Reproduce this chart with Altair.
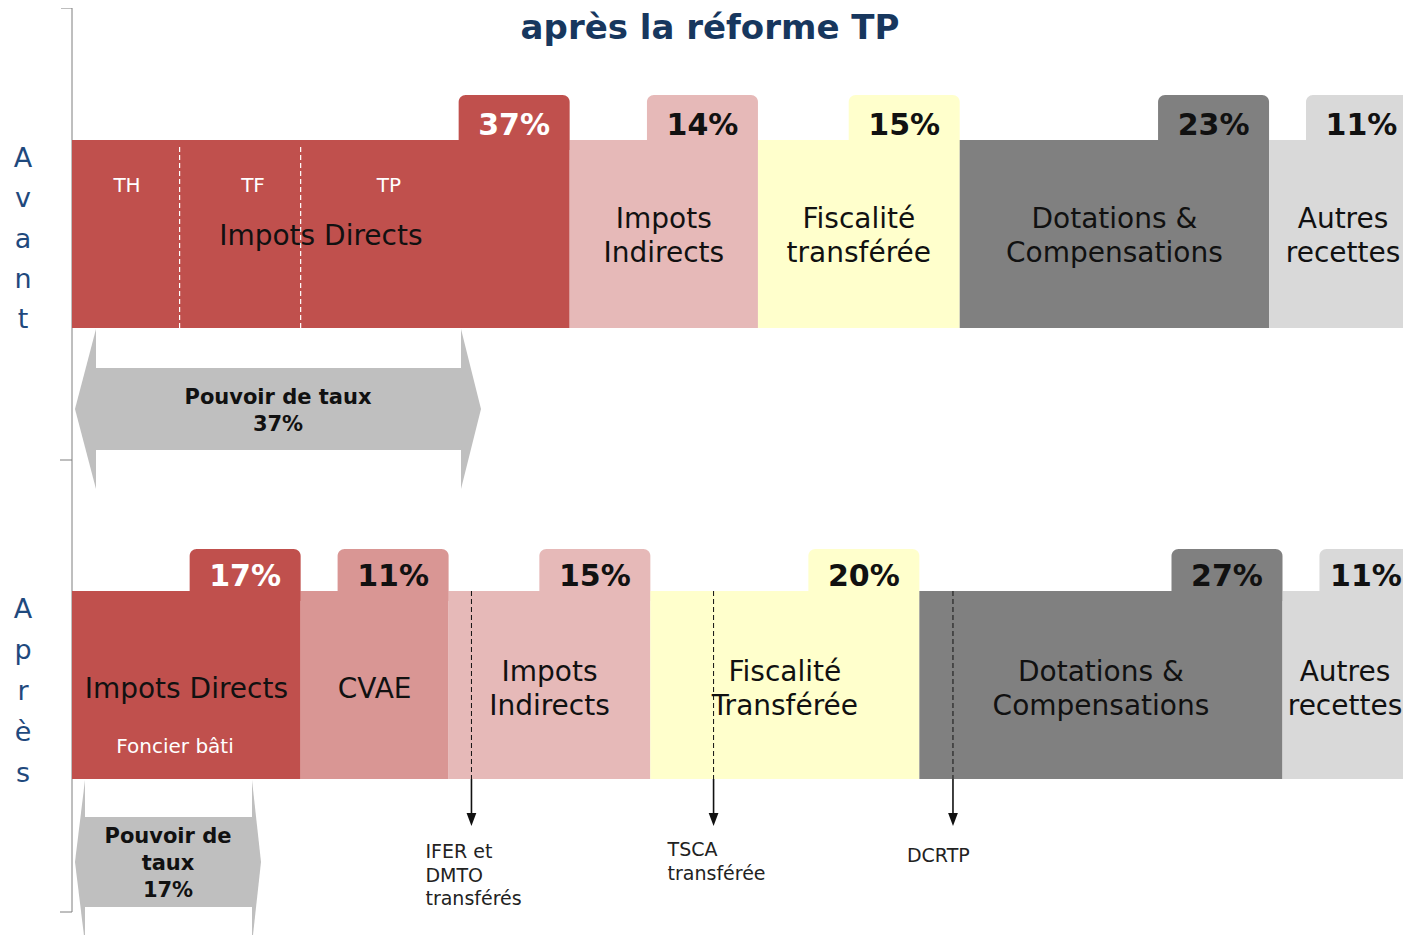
import altair as alt
import pandas as pd

# ---------------- data ----------------
TITLE = "après la réforme TP"
ROW_NAMES = ["Avant", "Après"]

AVANT_KEYS = ["direct", "indirect", "fiscal", "dotation", "autre"]
AVANT_LABELS = ["Impots Directs", "Impots\nIndirects", "Fiscalité\ntransférée",
                "Dotations &\nCompensations", "Autres\nrecettes"]
AVANT_PCT = [37, 14, 15, 23, 11]

APRES_KEYS = ["direct", "cvae", "indirect", "fiscal", "dotation", "autre"]
APRES_LABELS = ["Impots Directs", "CVAE", "Impots\nIndirects", "Fiscalité\nTransférée",
                "Dotations &\nCompensations", "Autres\nrecettes"]
APRES_PCT = [17, 11, 15, 20, 27, 11]

TP_SUB_LABELS = ["TH", "TF", "TP"]
TP_SUB_PCT = [8, 9, 20]            # estimated split of the 37 % (dashed dividers)

FONCIER_LABEL = "Foncier bâti"

TRANSFER_LABELS = ["IFER et\nDMTO\ntransférés", "TSCA\ntransférée", "DCRTP"]
TRANSFER_AT_PCT = [29.7, 47.7, 65.5]   # where the dashed markers sit (estimated)

COLORS = {
    "direct": "#C0504D",
    "cvae": "#D99694",
    "indirect": "#E6B9B8",
    "fiscal": "#FFFFCC",
    "dotation": "#808080",
    "autre": "#D9D9D9",
}

# ---------------- layout (pixels of the page) ----------------
W, H = 1395, 927
PX_PER_PCT = 13.45
X_ORIGIN = 72


def px(p):
    """page pixel -> percent units of the x scale"""
    return (p - X_ORIGIN) / PX_PER_PCT


X_SCALE = alt.Scale(domain=[px(8), px(8 + W)], nice=False, zero=False)
Y_SCALE = alt.Scale(domain=[8, 8 + H], reverse=True, nice=False, zero=False)

ROW_GEOM = {  # tab top, bar top, bar bottom, label centre, letters baseline, letter step
    "Avant": dict(tab_top=95, top=140, bottom=328, label_y=237, let0=167, step=40.3),
    "Après": dict(tab_top=549, top=591, bottom=779, label_y=690, let0=618, step=41),
}
TAB_W = 111 / PX_PER_PCT
FONT = "DejaVu Sans"
LABEL_LH = 34
MAX_PCT_TEXT_X = px(1366)     # keep the right-most tab text inside the page
MAX_LABEL_X = px(1345)        # keep the right-most segment label inside the page


def X(f="x"):
    return alt.X(f"{f}:Q", scale=X_SCALE, axis=None)


def Y(f="y"):
    return alt.Y(f"{f}:Q", scale=Y_SCALE, axis=None, stack=None)


def first_line_y(center, text, lh):
    n = text.count("\n") + 1
    return center - (n - 1) * lh / 2.0


color_enc = alt.Color("key:N", scale=alt.Scale(domain=list(COLORS), range=list(COLORS.values())),
                      legend=None)

# ---------------- segments ----------------
seg_rows = []
for row, keys, labels, pcts in [("Avant", AVANT_KEYS, AVANT_LABELS, AVANT_PCT),
                                ("Après", APRES_KEYS, APRES_LABELS, APRES_PCT)]:
    g = ROW_GEOM[row]
    cum = 0
    for k, lab, p in zip(keys, labels, pcts):
        seg_rows.append(dict(
            row=row, key=k, label=lab, pct=p, ptxt=f"{p}%",
            x=cum, x2=cum + p, xm=min(cum + p / 2.0, MAX_LABEL_X),
            tx=cum + p - TAB_W, txm=min(cum + p - TAB_W / 2.0, MAX_PCT_TEXT_X),
            y=g["top"], y2=g["bottom"], ty=g["tab_top"], ty2=g["top"] + 10,
            pty=g["top"] - 5, ly=first_line_y(g["label_y"], lab, LABEL_LH),
            tc="#FFFFFF" if k == "direct" else "#111111",
        ))
        cum += p
seg = pd.DataFrame(seg_rows)

tabs = alt.Chart(seg).mark_rect(cornerRadiusTopLeft=7, cornerRadiusTopRight=7).encode(
    x=X("tx"), x2="x2", y=Y("ty"), y2="ty2", color=color_enc)
bars = alt.Chart(seg).mark_rect().encode(x=X("x"), x2="x2", y=Y("y"), y2="y2", color=color_enc)
pct_text = alt.Chart(seg).mark_text(font=FONT, fontWeight="bold", fontSize=30,
                                    baseline="alphabetic", align="center").encode(
    x=X("txm"), y=Y("pty"), text="ptxt:N", color=alt.Color("tc:N", scale=None))
seg_text = alt.Chart(seg).mark_text(font=FONT, fontSize=28, lineHeight=LABEL_LH, lineBreak="\n",
                                    baseline="middle", align="center", color="#111111").encode(
    x=X("xm"), y=Y("ly"), text="label:N")

# ---------------- left bracket ----------------
bracket = pd.DataFrame([
    dict(x=0, x2=0, y=8, y2=912),
    dict(x=px(61), x2=0, y=8, y2=8),
    dict(x=px(60), x2=0, y=460, y2=460),
    dict(x=px(60), x2=0, y=912, y2=912),
])
bracket_rules = alt.Chart(bracket).mark_rule(color="#7F7F7F", strokeWidth=1).encode(
    x=X("x"), x2="x2", y=Y("y"), y2="y2")

# ---------------- TH / TF / TP ----------------
cum = 0
div_rows = []
for p in TP_SUB_PCT[:-1]:
    cum += p
    div_rows.append(dict(x=cum, y=147, y2=ROW_GEOM["Avant"]["bottom"]))
tp_div = alt.Chart(pd.DataFrame(div_rows)).mark_rule(
    color="white", strokeDash=[5, 3], strokeWidth=1.2).encode(x=X("x"), y=Y("y"), y2="y2")
sub_pos_px = [127, 253, 389]
sub = pd.DataFrame(dict(t=TP_SUB_LABELS, x=[px(v) for v in sub_pos_px], y=[186] * 3))
sub_text = alt.Chart(sub).mark_text(font=FONT, fontSize=20, color="white", baseline="middle").encode(
    x=X("x"), y=Y("y"), text="t:N")

fon = pd.DataFrame(dict(t=[FONCIER_LABEL], x=[px(175)], y=[747]))
fon_text = alt.Chart(fon).mark_text(font=FONT, fontSize=20, color="white", baseline="middle").encode(
    x=X("x"), y=Y("y"), text="t:N")

# ---------------- transfer markers ----------------
ga = ROW_GEOM["Après"]
tr = pd.DataFrame(dict(t=TRANSFER_LABELS, x=TRANSFER_AT_PCT))
tr["y"] = ga["top"]
tr["y2"] = ga["bottom"]
tr["ys"] = ga["bottom"]
tr["ys2"] = 814
tr["yh"] = 819.5
tr["yt"] = [843, 841, 847]
tr_dash = alt.Chart(tr).mark_rule(color="#111111", strokeDash=[5, 3], strokeWidth=1).encode(
    x=X("x"), y=Y("y"), y2="y2")
tr_solid = alt.Chart(tr).mark_rule(color="#111111", strokeWidth=1.6).encode(
    x=X("x"), y=Y("ys"), y2="ys2")
tr_head = alt.Chart(tr).mark_point(shape="M-0.75,-1L0.75,-1L0,1Z", filled=True, size=169,
                                   color="#111111", opacity=1).encode(x=X("x"), y=Y("yh"))
tr_text = alt.Chart(tr).mark_text(font=FONT, fontSize=19, lineHeight=23.5, lineBreak="\n",
                                  align="left", baseline="top", dx=-46, color="#222222").encode(
    x=X("x"), y=Y("yt"), text="t:N")

# ---------------- "Pouvoir de taux" arrows ----------------
ARROWS = [  # tip left, head base left, head base right, tip right (px), centre y, half head, half shaft
    dict(id="Avant", tl=75, bl=96, br=461, tr=481, cy=409, hh=80, sh=41,
         text=f"Pouvoir de taux\n{AVANT_PCT[0]}%"),
    dict(id="Après", tl=75, bl=85, br=252, tr=261, cy=862, hh=82, sh=45,
         text=f"Pouvoir de\ntaux\n{APRES_PCT[0]}%"),
]
ARROW_GREY = "#BFBFBF"
shaft_rows, head_rows = [], []
for a in ARROWS:
    shaft_rows.append(dict(x=px(a["bl"] - 0.5), x2=px(a["br"] + 0.5),
                           y=a["cy"] - a["sh"], y2=a["cy"] + a["sh"]))
    wl = (a["bl"] - a["tl"]) / (2.0 * a["hh"])
    wr = (a["tr"] - a["br"]) / (2.0 * a["hh"])
    head_rows.append(dict(x=px((a["tl"] + a["bl"]) / 2.0), y=a["cy"],
                          shp=f"M{-wl:.4f},0L{wl:.4f},-1L{wl:.4f},1Z", sz=(2 * a["hh"]) ** 2))
    head_rows.append(dict(x=px((a["br"] + a["tr"]) / 2.0), y=a["cy"],
                          shp=f"M{wr:.4f},0L{-wr:.4f},-1L{-wr:.4f},1Z", sz=(2 * a["hh"]) ** 2))
arrow_shaft = alt.Chart(pd.DataFrame(shaft_rows)).mark_rect(color=ARROW_GREY).encode(
    x=X("x"), x2="x2", y=Y("y"), y2="y2")
arrow_heads = alt.Chart(pd.DataFrame(head_rows)).mark_point(
    filled=True, color=ARROW_GREY, opacity=1).encode(
    x=X("x"), y=Y("y"), shape=alt.Shape("shp:N", scale=None), size=alt.Size("sz:Q", scale=None))
arrow_txt = pd.DataFrame([dict(t=a["text"], x=px((a["tl"] + a["tr"]) / 2.0),
                               y=first_line_y(a["cy"] + 2, a["text"], 27))
                          for a in ARROWS])
arrow_text = alt.Chart(arrow_txt).mark_text(font=FONT, fontSize=21, fontWeight="bold",
                                            lineHeight=27, lineBreak="\n", baseline="middle",
                                            color="#111111").encode(
    x=X("x"), y=Y("y"), text="t:N")

# ---------------- vertical row names ----------------
let_rows = []
for r in ROW_NAMES:
    g = ROW_GEOM[r]
    for i, ch in enumerate(r):
        let_rows.append(dict(t=ch, x=px(23), y=g["let0"] + i * g["step"]))
letters = alt.Chart(pd.DataFrame(let_rows)).mark_text(
    font=FONT, fontSize=27, color="#1F497D", baseline="alphabetic", align="center").encode(
    x=X("x"), y=Y("y"), text="t:N")

# ---------------- title ----------------
title = alt.Chart(pd.DataFrame(dict(t=[TITLE], x=[px(710)], y=[39]))).mark_text(
    font=FONT, fontSize=34, fontWeight="bold", color="#17375E", baseline="alphabetic").encode(
    x=X("x"), y=Y("y"), text="t:N")

chart = alt.layer(
    bracket_rules, arrow_shaft, arrow_heads, tabs, bars, tp_div, tr_dash, tr_solid, tr_head,
    pct_text, seg_text, sub_text, fon_text, tr_text, arrow_text, letters, title,
).properties(
    width=W, height=H, padding=0, autosize=alt.AutoSizeParams(type="none"), background="white"
).configure_view(stroke=None)

chart.save("out.html", embed_options={"renderer": "svg", "actions": False})
